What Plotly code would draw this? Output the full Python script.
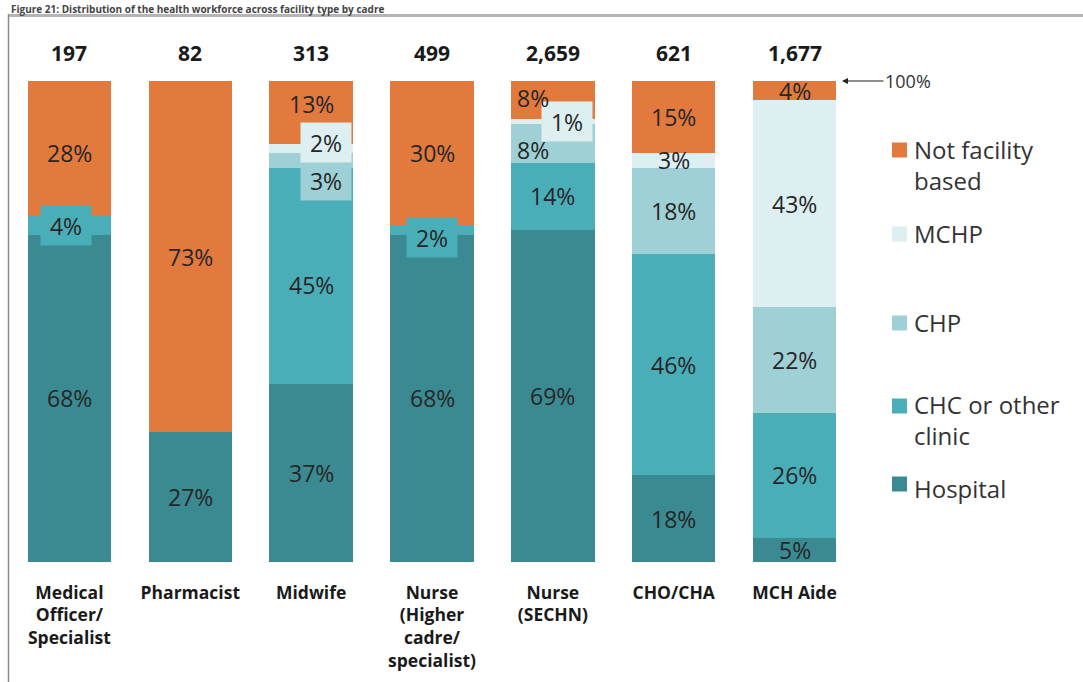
import plotly.graph_objects as go

# ---------------- data ----------------
categories = ["Medical<br>Officer/<br>Specialist", "Pharmacist", "Midwife",
              "Nurse<br>(Higher<br>cadre/<br>specialist)", "Nurse<br>(SECHN)",
              "CHO/CHA", "MCH Aide"]
totals = ["197", "82", "313", "499", "2,659", "621", "1,677"]
hospital = [68, 27, 37, 68, 69, 18, 5]
chc = [4, 0, 45, 2, 14, 46, 26]
chp = [0, 0, 3, 0, 8, 18, 22]
mchp = [0, 0, 2, 0, 1, 3, 43]
not_facility = [28, 73, 13, 30, 8, 15, 4]

series_names = ["Hospital", "CHC or other clinic", "CHP", "MCHP", "Not facility based"]
legend_labels = ["Not facility<br>based", "MCHP", "CHP", "CHC or other<br>clinic", "Hospital"]

# ---------------- style ----------------
C_HOSP = "#3B8A92"
C_CHC = "#4AAEB9"
C_CHP = "#9ED0D5"
C_MCHP = "#DDEFF1"
C_NF = "#E2793D"
colors = [C_HOSP, C_CHC, C_CHP, C_MCHP, C_NF]
values = [hospital, chc, chp, mchp, not_facility]

W, H = 1083, 682
L, R, T, B = 9, 228, 81, 120
PW, PH = W - L - R, H - T - B
FONT = "Open Sans"
TXT = "#262626"


def px_x(p):
    return (p - L) / PW


def px_y(p):
    return (H - B - p) / PH


# label adjustments (px, dx right / dy down) and boxed labels
label_adjust = {
    (4, 2): (0, -8),
    (2, 2): (15, 20),
    (1, 2): (0, 9),
    (3, 2): (15, -6),
    (4, 4): (-20, -2),
    (3, 4): (14, 0),
    (2, 4): (-20, 6),
    (1, 3): (0, 7),
    (1, 0): (-3, 0),
    (4, 0): (0, 5),
}
boxed = {(1, 0): C_CHC, (1, 3): C_CHC, (3, 2): C_MCHP, (2, 2): C_CHP, (3, 4): C_MCHP}

fig = go.Figure()
xs = list(range(len(categories)))
for name, vals, col in zip(series_names, values, colors):
    fig.add_trace(go.Bar(x=xs, y=vals, name=name, marker=dict(color=col, line=dict(width=0)),
                         showlegend=False, hoverinfo="skip"))

annotations = []
# segment labels
for i in xs:
    base = 0
    for s, vals in enumerate(values):
        v = vals[i]
        if v > 0:
            dx, dy = label_adjust.get((s, i), (0, 0))
            a = dict(x=i, y=base + v / 2, xref="x", yref="y", text=f"{v}%", showarrow=False,
                     font=dict(family=FONT, size=23, color=TXT), xshift=dx, yshift=-dy)
            if (s, i) in boxed:
                a.update(bgcolor=boxed[(s, i)], width=48, height=37)
            annotations.append(a)
        base += v

# totals above bars
for i, t in zip(xs, totals):
    annotations.append(dict(x=i, y=100, xref="x", yref="y", text=f"<b>{t}</b>", showarrow=False,
                            yshift=28, font=dict(family=FONT, size=21, color="#1a1a1a")))

# 100% arrow
annotations.append(dict(x=px_x(842), y=100, xref="paper", yref="y", text="100%", showarrow=True,
                        ax=66, ay=0, arrowhead=2, arrowsize=1, arrowwidth=1.2, arrowcolor="#222",
                        font=dict(family=FONT, size=18, color="#333")))

# manual legend
leg_square_y = [150, 234, 323, 406, 484]
leg_text_y = [165, 234, 322, 420, 488]
leg_colors = [C_NF, C_MCHP, C_CHP, C_CHC, C_HOSP]
shapes = []
for lab, sy, ty, col in zip(legend_labels, leg_square_y, leg_text_y, leg_colors):
    shapes.append(dict(type="rect", xref="paper", yref="paper",
                       x0=px_x(892), x1=px_x(907), y0=px_y(sy + 7.5), y1=px_y(sy - 7.5),
                       fillcolor=col, line=dict(width=0)))
    annotations.append(dict(x=px_x(912), y=px_y(ty), xref="paper", yref="paper", text=lab,
                            showarrow=False, xanchor="left", yanchor="middle", align="left",
                            font=dict(family=FONT, size=24, color="#333")))

# title at the top, above the frame line
annotations.append(dict(x=px_x(10), y=px_y(1), xref="paper", yref="paper",
                        text="<b>Figure 21: Distribution of the health workforce across facility type by cadre</b>",
                        showarrow=False, xanchor="left", yanchor="top", borderpad=0,
                        font=dict(family=FONT, size=10, color="#444")))

# frame lines
shapes.append(dict(type="line", xref="paper", yref="paper", x0=px_x(8), x1=px_x(W),
                   y0=px_y(15.5), y1=px_y(15.5), line=dict(color="#B5B5B5", width=3)))
shapes.append(dict(type="line", xref="paper", yref="paper", x0=px_x(8.5), x1=px_x(8.5),
                   y0=px_y(14), y1=px_y(H + 5), line=dict(color="#8A8A8A", width=1.5)))

fig.update_layout(
    width=W, height=H,
    margin=dict(l=L, r=R, t=T, b=B, pad=0),
    barmode="stack", bargap=0.31,
    plot_bgcolor="white", paper_bgcolor="white",
    annotations=annotations, shapes=shapes,
    xaxis=dict(range=[-0.5, 6.5], tickvals=xs, ticktext=[f"<b>{c}</b>" for c in categories],
               tickfont=dict(family=FONT, size=17.5, color="#1a1a1a"), showgrid=False,
               zeroline=False, showline=False, ticks="", ticklabelstandoff=18, fixedrange=True),
    yaxis=dict(range=[0, 100], visible=False, fixedrange=True),
)

fig.write_html("out.html")
